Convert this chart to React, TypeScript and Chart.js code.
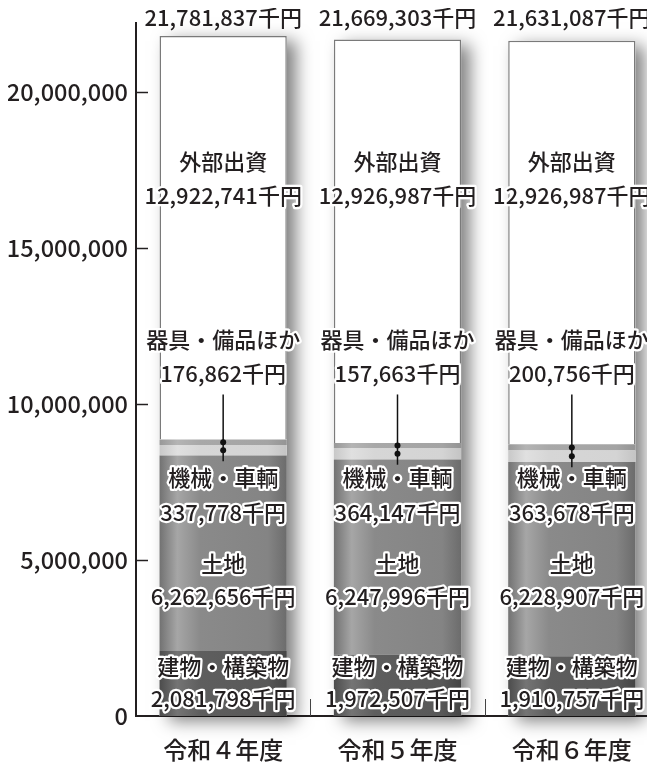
import { useEffect, useRef } from "react";
import { Chart, registerables } from "chart.js";

Chart.register(...registerables);

// ---- data ----
const categories = ["令和４年度", "令和５年度", "令和６年度"];
const seriesNames = ["建物・構築物", "土地", "機械・車輌", "器具・備品ほか", "外部出資"];
const buildings = [2081798, 1972507, 1910757];
const land = [6262656, 6247996, 6228907];
const machinery = [337778, 364147, 363678];
const fixtures = [176862, 157663, 200756];
const investments = [12922741, 12926987, 12926987];
const totals = [21781837, 21669303, 21631087];
const yTickValues = [0, 5000000, 10000000, 15000000, 20000000];

// ---- layout / style ----
const FONT = '"Noto Sans CJK JP", "Noto Sans", sans-serif';
const TEXT = "#231f20";
const BAR_PCT = 0.73;
const Y_MAX = 22200000;
const CANVAS_W = 660;
const CANVAS_H = 755;
// label centre heights in value units: [name, value]
const LABEL_Y: number[][] = [
  [1570000, 545000], // buildings
  [4880000, 3820000], // land
  [7630000, 6510000], // machinery
  [12060000, 10970000], // fixtures
  [17770000, 16680000], // investments
];
const LEADER_TOP = 10300000;

const fmt = (v: number) => v.toLocaleString("en-US");

type Stops = [number, string][];
const GRADS: Stops[] = [
  [[0, "#4c4c4c"], [0.14, "#747474"], [0.32, "#5e5e5e"], [0.85, "#585858"], [1, "#444444"]],
  [[0, "#727272"], [0.14, "#a6a6a6"], [0.32, "#8a8a8a"], [0.85, "#848484"], [1, "#6c6c6c"]],
  [[0, "#c8c8c8"], [0.14, "#e0e0e0"], [0.32, "#d6d6d6"], [0.85, "#d4d4d4"], [1, "#c4c4c4"]],
  [[0, "#989898"], [0.14, "#b4b4b4"], [0.32, "#a8a8a8"], [0.85, "#a4a4a4"], [1, "#949494"]],
  [[0, "#ffffff"], [1, "#ffffff"]],
];

function gradientFor(chart: any, index: number, stops: Stops) {
  const area = chart.chartArea;
  if (!area || !chart.scales || !chart.scales.x) return stops[Math.floor(stops.length / 2)][1];
  const cx = chart.scales.x.getPixelForValue(index);
  const w = ((area.right - area.left) / categories.length) * BAR_PCT;
  const g = chart.ctx.createLinearGradient(cx - w / 2, 0, cx + w / 2, 0);
  stops.forEach(([o, c]) => g.addColorStop(o, c));
  return g;
}

const shadowPlugin = {
  id: "barShadow",
  beforeDatasetsDraw(chart: any) {
    const ctx = chart.ctx;
    const bottomMeta = chart.getDatasetMeta(0);
    const topMeta = chart.getDatasetMeta(4);
    ctx.save();
    ctx.shadowColor = "rgba(0,0,0,0.5)";
    ctx.shadowBlur = 16;
    ctx.shadowOffsetX = 9;
    ctx.shadowOffsetY = 5;
    ctx.fillStyle = "#ffffff";
    bottomMeta.data.forEach((el: any, i: number) => {
      const t = topMeta.data[i];
      const w = el.width;
      ctx.fillRect(el.x - w / 2, t.y, w, el.base - t.y);
    });
    ctx.restore();
  },
};

const decorPlugin = {
  id: "decor",
  afterDatasetsDraw(chart: any) {
    const { ctx, chartArea: a, scales } = chart;
    const x = scales.x;
    const y = scales.y;
    ctx.save();
    // inward y ticks
    ctx.strokeStyle = TEXT;
    ctx.lineWidth = 1.5;
    yTickValues.forEach((v) => {
      if (v === 0) return;
      const py = Math.round(y.getPixelForValue(v)) + 0.5;
      ctx.beginPath();
      ctx.moveTo(a.left, py);
      ctx.lineTo(a.left + 12, py);
      ctx.stroke();
    });
    // category separators on x axis
    ctx.strokeStyle = "#444";
    ctx.lineWidth = 1;
    const catW = (a.right - a.left) / categories.length;
    for (let i = 1; i < categories.length; i++) {
      const px = Math.round(a.left + catW * i) + 0.5;
      ctx.beginPath();
      ctx.moveTo(px, a.bottom);
      ctx.lineTo(px, a.bottom - 17);
      ctx.stroke();
    }

    ctx.textAlign = "center";
    ctx.textBaseline = "middle";
    ctx.lineJoin = "round";
    const series = [buildings, land, machinery, fixtures, investments];
    categories.forEach((_, i) => {
      const cx = x.getPixelForValue(i);
      // totals above bars
      ctx.font = `500 22px ${FONT}`;
      ctx.fillStyle = TEXT;
      ctx.fillText(`${fmt(totals[i])}千円`, cx, 10);

      // leader line for fixtures
      const bLand = buildings[i] + land[i];
      const dot2 = y.getPixelForValue(bLand + machinery[i] / 2);
      const dot1 = y.getPixelForValue(bLand + machinery[i] + fixtures[i] / 2);
      ctx.strokeStyle = "#111";
      ctx.lineWidth = 1.5;
      ctx.beginPath();
      ctx.moveTo(cx, y.getPixelForValue(LEADER_TOP));
      ctx.lineTo(cx, dot2 + 11);
      ctx.stroke();
      ctx.fillStyle = "#111";
      [dot1, dot2].forEach((d) => {
        ctx.beginPath();
        ctx.arc(cx, d, 3, 0, Math.PI * 2);
        ctx.fill();
      });

      // segment labels
      ctx.font = `500 22px ${FONT}`;
      series.forEach((s, k) => {
        const lines = [seriesNames[k], `${fmt(s[i])}千円`];
        lines.forEach((txt, j) => {
          const py = y.getPixelForValue(LABEL_Y[k][j]);
          ctx.strokeStyle = "#ffffff";
          ctx.lineWidth = 4.5;
          ctx.strokeText(txt, cx, py);
          ctx.fillStyle = TEXT;
          ctx.fillText(txt, cx, py);
        });
      });
    });
    ctx.restore();
  },
};

export default function App() {
  const ref = useRef<HTMLCanvasElement>(null);
  useEffect(() => {
    if (!ref.current) return;
    const series = [buildings, land, machinery, fixtures, investments];
    const chart = new Chart(ref.current, {
      type: "bar",
      data: {
        labels: categories,
        datasets: series.map((s, k) => ({
          label: seriesNames[k],
          data: s,
          backgroundColor: (c: any) => gradientFor(c.chart, c.dataIndex, GRADS[k]),
          borderColor: k === 4 ? "#7a7a7a" : "rgba(0,0,0,0.25)",
          borderWidth: k === 4 ? { top: 1.5, left: 1.5, right: 1.5, bottom: 0 } : 0,
          borderSkipped: false,
          categoryPercentage: 1,
          barPercentage: BAR_PCT,
        })),
      },
      options: {
        responsive: false,
        animation: false,
        layout: { padding: { top: 15, right: 9, left: 0, bottom: 0 } },
        plugins: {
          legend: { display: false },
          tooltip: { enabled: false },
        },
        scales: {
          x: {
            stacked: true,
            grid: { display: false },
            border: { display: true, color: TEXT, width: 2 },
            ticks: {
              padding: 11,
              color: TEXT,
              font: { family: FONT, size: 24, weight: "500" },
            },
            afterFit: (s: any) => {
              s.height = 47;
            },
          },
          y: {
            stacked: true,
            min: 0,
            max: Y_MAX,
            grid: { display: false, drawTicks: false },
            border: { display: true, color: TEXT, width: 2 },
            afterBuildTicks: (s: any) => {
              s.ticks = yTickValues.map((v) => ({ value: v }));
            },
            ticks: {
              padding: 8,
              color: TEXT,
              font: { family: FONT, size: 23.5, weight: "500" },
              callback: (v: any) => fmt(Number(v)),
            },
            afterFit: (s: any) => {
              s.width = 128;
              s.paddingTop = 0;
              s.paddingBottom = 0;
            },
          },
        },
      },
      plugins: [shadowPlugin, decorPlugin],
    });
    return () => chart.destroy();
  }, []);

  return (
    <div style={{ width: 647, height: CANVAS_H, overflow: "hidden" }}>
      <canvas
        ref={ref}
        width={CANVAS_W}
        height={CANVAS_H}
        style={{ width: CANVAS_W, height: CANVAS_H, display: "block" }}
      />
    </div>
  );
}
